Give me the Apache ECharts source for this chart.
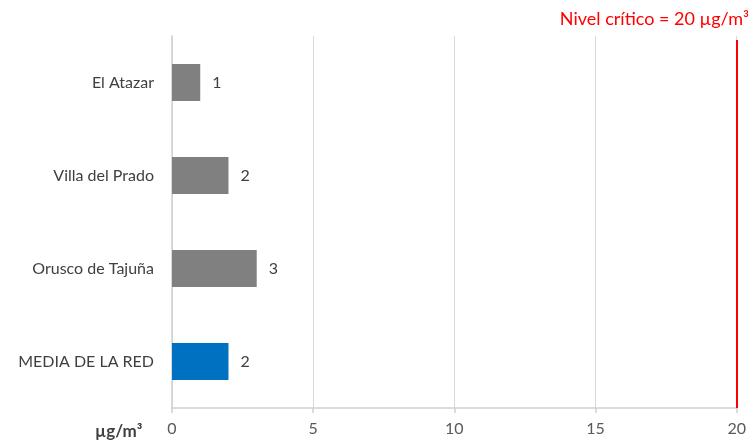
<!DOCTYPE html>
<html>
<head>
<meta charset="utf-8">
<script src="https://cdn.jsdelivr.net/npm/echarts@6/dist/echarts.min.js"></script>
<style>
  html, body { margin: 0; padding: 0; background: #fff; }
  #chart { width: 749px; height: 441px; }
</style>
</head>
<body>
<div id="chart"></div>
<script>
// Stations, top to bottom as drawn
const stations = ['El Atazar', 'Villa del Prado', 'Orusco de Tajuña', 'MEDIA DE LA RED'];
// Annual mean values (µg/m³)
const values = [1, 2, 3, 2];
const barColors = ['#808080', '#808080', '#808080', '#0070C0'];
// Critical level and axis range
const criticalLevel = 20;
const xTicks = [0, 5, 10, 15, 20];

const FONT = 'Lato, "Open Sans", sans-serif';

const chart = echarts.init(document.getElementById('chart'), null, { renderer: 'canvas' });

chart.setOption({
  animation: false,
  backgroundColor: '#ffffff',
  grid: { left: 172, right: 10, top: 36, bottom: 33, containLabel: false },
  xAxis: {
    type: 'value',
    min: xTicks[0],
    max: xTicks[xTicks.length - 1],
    interval: xTicks[1] - xTicks[0],
    axisLine: { show: true, lineStyle: { color: '#d0d0d0', width: 1.5 } },
    axisTick: { show: true, length: 5, lineStyle: { color: '#d0d0d0', width: 1.5 } },
    axisLabel: { color: '#595959', fontSize: 16, fontFamily: FONT, margin: 13 },
    splitLine: { show: true, lineStyle: { color: '#d9d9d9', width: 1 } }
  },
  yAxis: {
    type: 'category',
    data: stations,
    inverse: true,
    axisLine: { show: true, lineStyle: { color: '#d0d0d0', width: 1.5 } },
    axisTick: { show: false },
    axisLabel: { color: '#404040', fontSize: 16, fontFamily: FONT, margin: 18 }
  },
  series: [{
    type: 'bar',
    data: values.map((v, i) => ({ value: v, itemStyle: { color: barColors[i] } })),
    barWidth: 37,
    label: {
      show: true,
      position: 'right',
      distance: 12,
      color: '#404040',
      fontSize: 16,
      fontFamily: FONT
    },
    markLine: {
      symbol: 'none',
      silent: true,
      label: { show: false },
      lineStyle: { color: '#ff0000', width: 2, type: 'solid' },
      data: [[{ xAxis: criticalLevel, y: 40 }, { xAxis: criticalLevel, y: 408 }]]
    }
  }],
  graphic: [
    {
      type: 'text',
      right: 0,
      top: 10,
      style: {
        text: 'Nivel crítico = 20 µg/m³',
        fill: '#ff0000',
        fontSize: 18,
        fontFamily: FONT
      }
    },
    {
      type: 'text',
      left: 95,
      top: 423,
      style: {
        text: 'µg/m³',
        fill: '#404040',
        fontSize: 17,
        fontWeight: 'bold',
        fontFamily: FONT
      }
    }
  ]
});
</script>
</body>
</html>
